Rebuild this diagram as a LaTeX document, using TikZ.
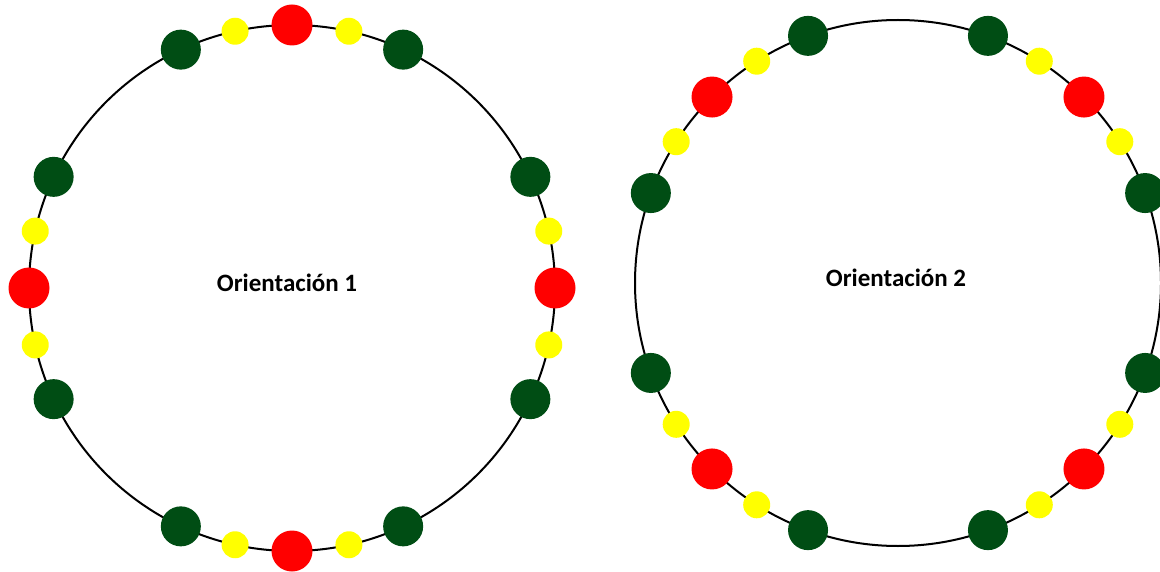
\documentclass[tikz,border=0pt]{standalone}
\usepackage{fontspec}
\setmainfont{Carlito}
\usetikzlibrary{calc}
\definecolor{dkgreen}{RGB}{0,77,20}
\definecolor{myred}{RGB}{255,0,0}
\definecolor{myyellow}{RGB}{255,255,0}
\tikzset{
  ring/.style={draw=black, line width=2pt},
  gdot/.style={circle, fill=dkgreen, inner sep=0pt, minimum size=40pt},
  rdot/.style={circle, fill=myred, inner sep=0pt, minimum size=41pt},
  ydot/.style={circle, fill=myyellow, inner sep=0pt, minimum size=27pt},
  lbl/.style={font=\bfseries\fontsize{25pt}{29pt}\selectfont, anchor=base, inner sep=0pt}
}
\begin{document}
\begin{tikzpicture}[x=1pt, y=-1pt]
\useasboundingbox (0,0) rectangle (1160,572);
% circle 1
\coordinate (c1) at (292,288);
\draw[ring] (c1) circle (263pt);
\foreach \q [count=\k] in {0,90,180,270}{
  \node[rdot] (r1-\k) at ($(c1)+({\q}:263pt)$) {};
}
\foreach \a [count=\k] in {25,65,115,155,205,245,295,335}{
  \node[gdot] (g1-\k) at ($(c1)+({\a}:263pt)$) {};
}
\foreach \a [count=\k] in {12.5,77.5,102.5,167.5,192.5,257.5,282.5,347.5}{
  \node[ydot] (y1-\k) at ($(c1)+({\a}:263pt)$) {};
}
\node[lbl] (t1) at (287,292) {Orientación 1};
% circle 2
\coordinate (c2) at (898,283);
\draw[ring] (c2) circle (263pt);
\foreach \q [count=\k] in {45,135,225,315}{
  \node[rdot] (r2-\k) at ($(c2)+({\q}:263pt)$) {};
}
\foreach \a [count=\k] in {20,70,110,160,200,250,290,340}{
  \node[gdot] (g2-\k) at ($(c2)+({\a}:263pt)$) {};
}
\foreach \a [count=\k] in {32.5,57.5,122.5,147.5,212.5,237.5,302.5,327.5}{
  \node[ydot] (y2-\k) at ($(c2)+({\a}:263pt)$) {};
}
\node[lbl] (t2) at (896,287) {Orientación 2};
\end{tikzpicture}
\end{document}
